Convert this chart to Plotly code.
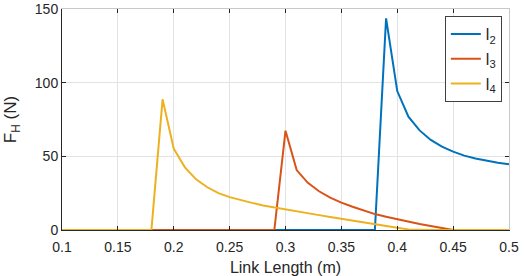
import plotly.graph_objects as go

link_length = [round(0.10 + 0.01 * i, 2) for i in range(41)]

l2_vals = {
    0.39: 143.7, 0.40: 94.3, 0.41: 76.9, 0.42: 67.6, 0.43: 61.1, 0.44: 56.6,
    0.45: 53.2, 0.46: 50.5, 0.47: 48.6, 0.48: 47.0, 0.49: 45.7, 0.50: 44.6,
}
l3_vals = {
    0.30: 67.4, 0.31: 40.7, 0.32: 32.0, 0.33: 26.3, 0.34: 22.0, 0.35: 18.6,
    0.36: 15.8, 0.37: 13.3, 0.38: 10.8, 0.39: 9.0, 0.40: 7.2, 0.41: 5.7,
    0.42: 4.1, 0.43: 2.7, 0.44: 1.4, 0.45: 0.0,
}
l4_vals = {
    0.19: 88.7, 0.20: 55.2, 0.21: 42.5, 0.22: 34.4, 0.23: 29.0, 0.24: 25.0,
    0.25: 22.3, 0.26: 20.2, 0.27: 18.4, 0.28: 16.7, 0.29: 15.3, 0.30: 14.0,
    0.31: 12.6, 0.32: 11.3, 0.33: 10.1, 0.34: 8.9, 0.35: 7.6, 0.36: 6.3,
    0.37: 5.1, 0.38: 3.9, 0.39: 2.8, 0.40: 1.6, 0.41: 0.4, 0.42: 0.0,
}
f_l2 = [l2_vals.get(x, 0.0) for x in link_length]
f_l3 = [l3_vals.get(x, 0.0) for x in link_length]
f_l4 = [l4_vals.get(x, 0.0) for x in link_length]

series_names = ["l<sub>2</sub>", "l<sub>3</sub>", "l<sub>4</sub>"]
series_colors = ["#0072BD", "#D95319", "#EDB120"]
x_ticks = [0.1, 0.15, 0.2, 0.25, 0.3, 0.35, 0.4, 0.45, 0.5]
x_tick_labels = ["0.1", "0.15", "0.2", "0.25", "0.3", "0.35", "0.4", "0.45", "0.5"]
y_ticks = [0, 50, 100, 150]

fig = go.Figure()
for i, (name, ys, c) in enumerate(zip(series_names, [f_l2, f_l3, f_l4], series_colors)):
    fig.add_trace(go.Scatter(x=link_length, y=ys, mode="lines", name=name,
                             legendgroup=f"g{i}",
                             line=dict(color=c, width=2)))

# invisible trace on overlay axes for top/right box ticks
fig.add_trace(go.Scatter(x=[0.1, 0.5], y=[0, 150], xaxis="x2", yaxis="y2",
                         mode="none", showlegend=False, hoverinfo="skip"))

font = "Liberation Sans, Arial, sans-serif"
common = dict(ticks="inside", ticklen=4, tickcolor="#262626", zeroline=False,
              automargin=False)
fig.update_layout(
    width=524, height=276,
    margin=dict(l=62, r=15, t=9, b=46),
    paper_bgcolor="white", plot_bgcolor="white",
    font=dict(family=font, size=14, color="#262626"),
    xaxis=dict(range=[0.1, 0.5], tickvals=x_ticks, ticktext=x_tick_labels,
               showline=True, linecolor="#262626", linewidth=1,
               showgrid=True, gridcolor="#e3e3e3", gridwidth=1,
               title=dict(text="Link Length (m)", font=dict(size=16), standoff=10),
               tickfont=dict(size=14), ticklabelstandoff=4, **common),
    yaxis=dict(range=[0, 150], tickvals=y_ticks,
               showline=True, linecolor="#262626", linewidth=1,
               showgrid=True, gridcolor="#e3e3e3", gridwidth=1,
               title=dict(text="F<sub>H</sub> (N)", font=dict(size=17), standoff=13),
               tickfont=dict(size=14), **common),
    xaxis2=dict(range=[0.1, 0.5], tickvals=x_ticks, overlaying="x", side="top",
                showticklabels=False, showline=True, linecolor="#c8c8c8",
                showgrid=False, **common),
    yaxis2=dict(range=[0, 150], tickvals=y_ticks, overlaying="y", side="right",
                showticklabels=False, showline=True, linecolor="#c8c8c8",
                showgrid=False, **common),
    legend=dict(x=0.984, y=0.968, xanchor="right", yanchor="top",
                bgcolor="white", bordercolor="#404040", borderwidth=1,
                font=dict(size=16, family=font, color="#262626"),
                itemwidth=30, tracegroupgap=1),
    showlegend=True,
)

fig.write_html("out.html", config={"displayModeBar": False},
               post_script="document.body.style.margin='0';")
